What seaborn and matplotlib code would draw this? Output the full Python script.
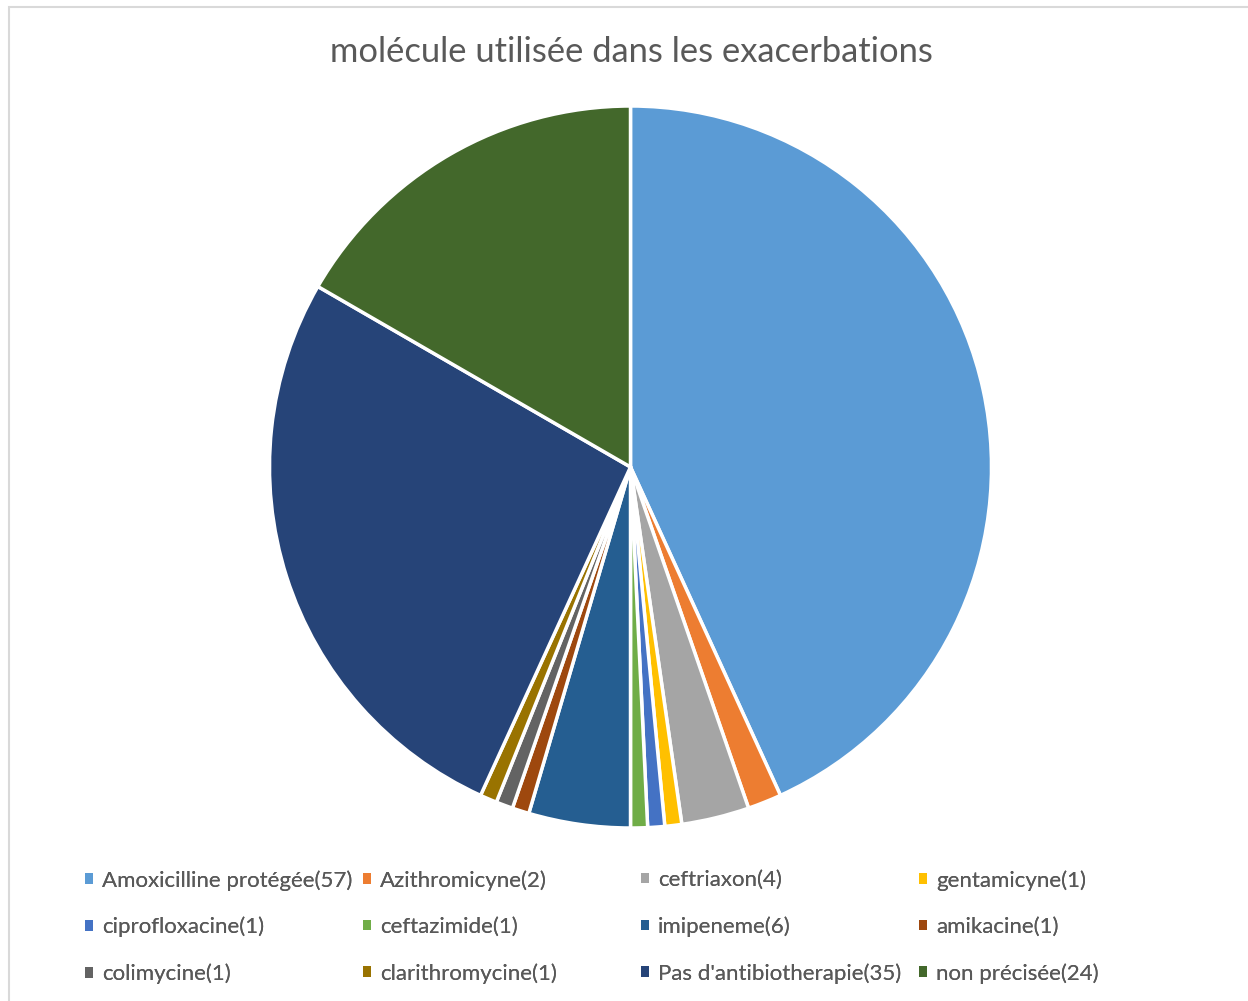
import matplotlib
matplotlib.use("Agg")
import matplotlib.pyplot as plt
import matplotlib.patches as mpatches
import seaborn as sns

labels = ["Amoxicilline protégée(57)", "Azithromicyne(2)", "ceftriaxon(4)", "gentamicyne(1)",
          "ciprofloxacine(1)", "ceftazimide(1)", "imipeneme(6)", "amikacine(1)",
          "colimycine(1)", "clarithromycine(1)", "Pas d'antibiotherapie(35)", "non précisée(24)"]
values = [57, 2, 4, 1, 1, 1, 6, 1, 1, 1, 35, 22]
colors = ["#5B9BD5", "#ED7D31", "#A5A5A5", "#FFC000", "#4472C4", "#70AD47",
          "#255E91", "#9E480E", "#636363", "#997300", "#264478", "#43682B"]

sns.set_theme(style="white")
plt.rcParams['font.family'] = ['Lato', 'DejaVu Sans']
palette = sns.color_palette(colors)

fig = plt.figure(figsize=(12.48, 10.01), dpi=100)
W, H = 1248, 1001

# cadre gris clair
fig.patches.append(mpatches.Rectangle((9 / W, -0.01), 1.0, 1 - 7 / H + 0.01,
                                      transform=fig.transFigure, fill=False,
                                      edgecolor="#d9d9d9", linewidth=1.5))

cx, cy, r = 630.5, 467, 361
ax = fig.add_axes([(cx - r) / W, (H - cy - r) / H, 2 * r / W, 2 * r / H])
wedges, _ = ax.pie(values, colors=palette, startangle=90, counterclock=False,
                   wedgeprops=dict(edgecolor="white", linewidth=2.5))
ax.set_xlim(-1, 1)
ax.set_ylim(-1, 1)
ax.set_aspect("equal")
ax.axis("off")

fig.text(631 / W, 1 - 52 / H, "molécule utilisée dans les exacerbations",
         ha="center", va="center", fontsize=24.8, color="#595959")

# légende en 4 colonnes régulières comme dans Excel
col_x = [85, 363, 641, 919]
for c in range(4):
    idx = [c, c + 4, c + 8]
    leg = fig.legend([wedges[i] for i in idx], [labels[i] for i in idx],
                     loc="upper left", bbox_to_anchor=(col_x[c] / W, 1 - 870 / H),
                     frameon=False, fontsize=16, labelcolor="#595959",
                     handlelength=0.36, handleheight=0.36, handletextpad=0.4,
                     labelspacing=1.18, borderaxespad=0, borderpad=0)
    for h in leg.legend_handles:
        h.set_linewidth(0)
    fig.add_artist(leg)

fig.savefig("out.png", dpi=100)
